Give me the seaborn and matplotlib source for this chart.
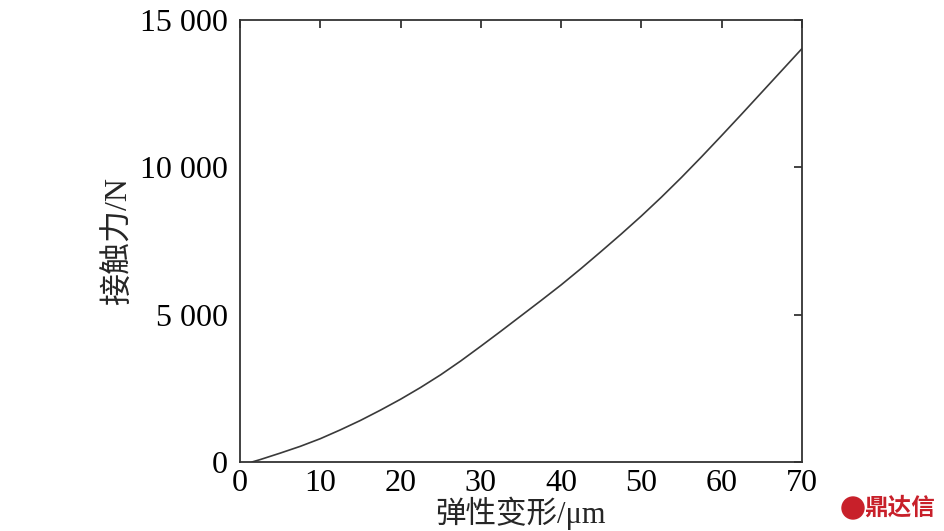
import pandas as pd
import seaborn as sns
import matplotlib.pyplot as plt
from matplotlib.patches import Circle

# dados
deformacao = [1.5, 2.5, 5, 7.5, 10, 12.5, 15, 17.5, 20, 22.5, 25, 27.5, 30, 32.5, 35,
              37.5, 40, 42.5, 45, 47.5, 50, 52.5, 55, 57.5, 60, 62.5, 65, 67.5, 70]
forca = [0, 80, 300, 530, 790, 1090, 1410, 1760, 2130, 2530, 2960, 3430, 3930, 4440, 4960,
         5480, 6010, 6570, 7150, 7740, 8350, 8990, 9660, 10360, 11080, 11810, 12550, 13290, 14030]
xticks = [0, 10, 20, 30, 40, 50, 60, 70]
yticks = [0, 5000, 10000, 15000]
ytick_labels = ['0', '5 000', '10 000', '15 000']

df = pd.DataFrame({'x': deformacao, 'y': forca})

sns.set_style('white')
plt.rcParams['font.family'] = ['Liberation Serif', 'Noto Sans CJK SC']

fig = plt.figure(figsize=(9.45, 5.31), dpi=100)
ax = fig.add_axes([0.254, 0.130, 0.5945, 0.832])

sns.lineplot(data=df, x='x', y='y', ax=ax, color='#3a3a3a', linewidth=1.2)

ax.set_xlim(0, 70)
ax.set_ylim(0, 15000)
ax.set_xticks(xticks)
ax.set_xticklabels([str(t) for t in xticks], fontsize=23)
ax.set_yticks(yticks)
ax.set_yticklabels(ytick_labels, fontsize=23)
ax.tick_params(direction='in', length=6, width=1.2, top=True, right=True,
               colors='#222222', labelcolor='black')
ax.tick_params(axis='y', pad=9)
ax.tick_params(axis='x', pad=5)
for s in ax.spines.values():
    s.set_linewidth(1.3)
    s.set_color('#333333')

ax.set_xlabel('弹性变形/μm', fontsize=22, labelpad=-1)
ax.set_ylabel('接触力/N', fontsize=23, labelpad=4)

# marca d'agua
fig.patches.append(Circle((8.53, 0.23), 0.11, transform=fig.dpi_scale_trans,
                          color='#c8202a', figure=fig))
fig.text(0.99, 0.022, '鼎达信', color='#c8202a', fontsize=17, fontweight='bold',
         ha='right', va='bottom', family=['Noto Sans CJK SC'])

fig.savefig('out.png', dpi=100)
